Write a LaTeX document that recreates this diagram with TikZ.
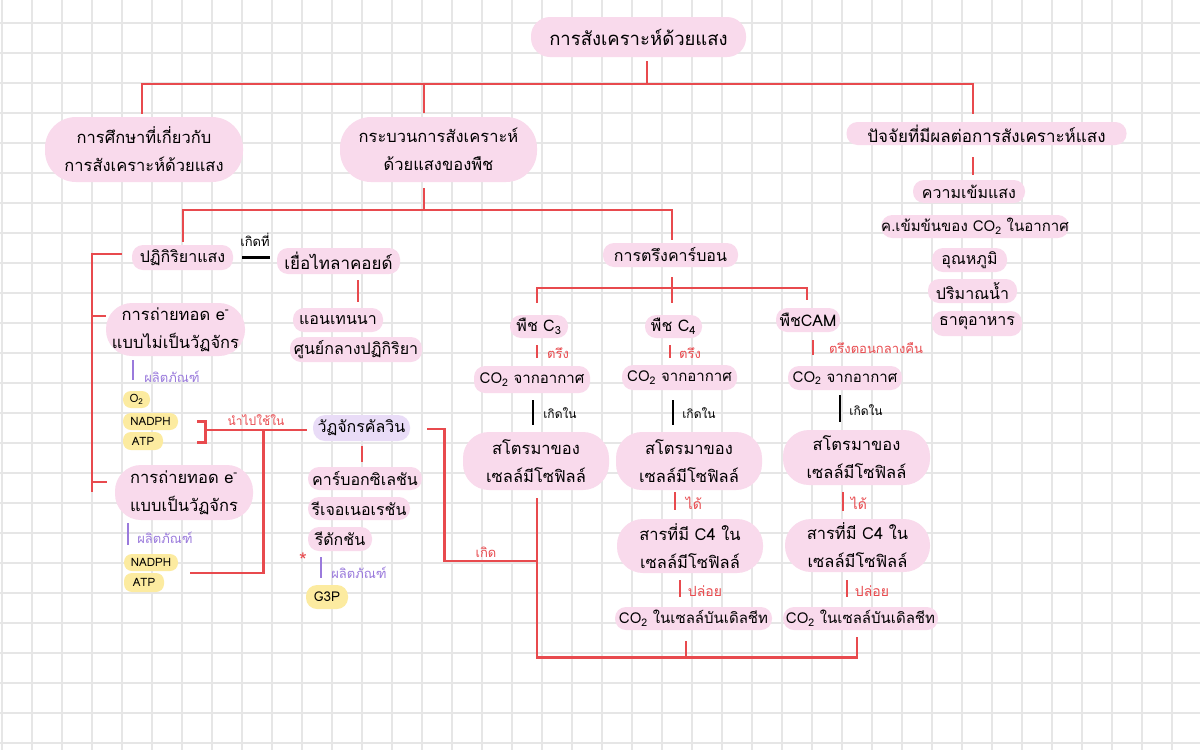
\documentclass[tikz,border=0pt]{standalone}
\usepackage{fontspec}
\setmainfont[Script=Thai]{Loma}
\definecolor{pinkc}{HTML}{F9DAEC}
\definecolor{purf}{HTML}{E9DCF7}
\definecolor{yel}{HTML}{FCEBA0}
\definecolor{redc}{HTML}{E84A4E}
\definecolor{purc}{HTML}{9A7ADC}
\definecolor{gridc}{HTML}{E6E6E6}
\tikzset{
 sz/.style 2 args={minimum width=#1,minimum height=#2},
 pill/.style={fill=pinkc, rounded corners=11pt, inner sep=0pt, font=\fontsize{16}{18}\selectfont},
 bigpill/.style={fill=pinkc, rounded corners=26pt, inner sep=0pt, align=center, font=\fontsize{16.5}{28}\selectfont},
 ypill/.style={fill=yel, rounded corners=8pt, inner sep=0pt, font=\fontsize{11.5}{13}\selectfont},
 ppill/.style={fill=purf, rounded corners=12pt, inner sep=0pt, font=\fontsize{16}{18}\selectfont},
 redl/.style={draw=redc, line width=2.6pt},
 blkl/.style={draw=black, line width=2.6pt},
 purl/.style={draw=purc, line width=2.6pt},
 lab/.style={inner sep=0pt, font=\fontsize{13}{14}\selectfont},
 rlab/.style={lab, text=redc},
 plab/.style={lab, text=purc},
}
\begin{document}
\begin{tikzpicture}[x=1pt,y=-1pt]
\useasboundingbox (0,0) rectangle (1200,750);
\fill[white] (0,0) rectangle (1200,750);
\foreach \i in {0,...,39} {\draw[gridc, line width=1.2pt] (2+30*\i,0) -- (2+30*\i,750);}
\foreach \i in {0,...,24} {\draw[gridc, line width=1.2pt] (0,23+30*\i) -- (1200,23+30*\i);}

% top level
\node[pill, sz={215pt}{40pt}, rounded corners=19pt, font=\fontsize{18.5}{20}\selectfont] (root) at (638.5,37) {การสังเคราะห์ด้วยแสง};
\node[bigpill, sz={198pt}{65pt}, rounded corners=31pt] (study) at (144,149.5) {การศึกษาที่เกี่ยวกับ\\การสังเคราะห์ด้วยแสง};
\node[bigpill, sz={197pt}{65pt}, rounded corners=31pt] (process) at (438.5,149.5) {กระบวนการสังเคราะห์\\ด้วยแสงของพืช};
\node[pill, sz={280pt}{23pt}, font=\fontsize{17}{18}\selectfont] (factors) at (986.5,133.5) {ปัจจัยที่มีผลต่อการสังเคราะห์แสง};
\node[pill, sz={112pt}{23pt}] (f1) at (969,191.5) {ความเข้มแสง};
\node[pill, sz={186pt}{23pt}, font=\fontsize{15}{18}\selectfont] (f2) at (975,226.5) {ค.เข้มข้นของ CO\textsubscript{2} ในอากาศ};
\node[pill, sz={75pt}{24pt}] (f3) at (969.5,260) {อุณหภูมิ};
\node[pill, sz={89pt}{24pt}] (f4) at (972.5,291) {ปริมาณน้ำ};
\node[pill, sz={90pt}{25pt}] (f5) at (977,323.5) {ธาตุอาหาร};

% light reaction
\node[pill, sz={101pt}{25pt}] (light) at (182.5,257.5) {ปฏิกิริยาแสง};
\node[pill, sz={123pt}{26pt}, font=\fontsize{17}{18}\selectfont] (thyl) at (338.5,261) {เยื่อไทลาคอยด์};
\node[pill, sz={90pt}{24pt}] (ant) at (338,320) {แอนเทนนา};
\node[pill, sz={132pt}{25pt}] (rc) at (356,349.5) {ศูนย์กลางปฏิกิริยา};
\node[bigpill, sz={139pt}{53pt}] (noncyc) at (175.5,329.5) {การถ่ายทอด e\textsuperscript{-}\\แบบไม่เป็นวัฏจักร};
\node[ypill, sz={27pt}{17pt}] (o2) at (136.5,399.5) {O\textsubscript{2}};
\node[ypill, sz={55pt}{17pt}] (nadph1) at (150.5,421.5) {NADPH};
\node[ypill, sz={40pt}{18pt}] (atp1) at (143,441) {ATP};
\node[bigpill, sz={138pt}{55pt}] (cyc) at (184,492.5) {การถ่ายทอด e\textsuperscript{-}\\แบบเป็นวัฏจักร};
\node[ypill, sz={54pt}{17pt}] (nadph2) at (151,562.5) {NADPH};
\node[ypill, sz={40pt}{19pt}] (atp2) at (144,582.5) {ATP};

% calvin
\node[ppill, sz={97pt}{26pt}] (calvin) at (361.5,428) {วัฏจักรคัลวิน};
\node[pill, sz={114pt}{23pt}] (carb) at (365,478.5) {คาร์บอกซิเลชัน};
\node[pill, sz={102pt}{23pt}] (regen) at (359,508.5) {รีเจอเนอเรชัน};
\node[pill, sz={64pt}{24pt}] (redu) at (340,539) {รีดักชัน};
\node[ypill, sz={42pt}{24pt}, rounded corners=11pt, font=\fontsize{13.5}{15}\selectfont] (g3p) at (327,597) {G3P};
\node[rlab, font=\fontsize{20}{20}\selectfont] (ast) at (303,560) {*};

% carbon fixation
\node[pill, sz={135pt}{24pt}] (fix) at (670.5,255) {การตรึงคาร์บอน};
\node[pill, sz={58pt}{23pt}] (c3) at (539,326.5) {พืช C\textsubscript{3}};
\node[pill, sz={57pt}{23pt}] (c4) at (673.5,326.5) {พืช C\textsubscript{4}};
\node[pill, sz={64pt}{24pt}] (cam) at (808,320) {พืชCAM};
\node[pill, sz={116pt}{27pt}, font=\fontsize{15}{18}\selectfont] (co2a) at (532,379.5) {CO\textsubscript{2} จากอากาศ};
\node[pill, sz={115pt}{25pt}, font=\fontsize{15}{18}\selectfont] (co2b) at (679.5,377.5) {CO\textsubscript{2} จากอากาศ};
\node[pill, sz={114pt}{24pt}, font=\fontsize{15}{18}\selectfont] (co2c) at (845,378) {CO\textsubscript{2} จากอากาศ};
\node[bigpill, sz={146pt}{58pt}] (str1) at (536,461) {สโตรมาของ\\เซลล์มีโซฟิลล์};
\node[bigpill, sz={146pt}{58pt}] (str2) at (689,461) {สโตรมาของ\\เซลล์มีโซฟิลล์};
\node[bigpill, sz={147pt}{55pt}] (str3) at (856.5,457.5) {สโตรมาของ\\เซลล์มีโซฟิลล์};
\node[bigpill, sz={146pt}{54pt}] (sub1) at (690,546) {สารที่มี C4 ใน\\เซลล์มีโซฟิลล์};
\node[bigpill, sz={145pt}{53pt}] (sub2) at (857.5,545.5) {สารที่มี C4 ใน\\เซลล์มีโซฟิลล์};
\node[pill, sz={157pt}{23pt}, font=\fontsize{15}{18}\selectfont] (bs1) at (693.5,618.5) {CO\textsubscript{2} ในเซลล์บันเดิลชีท};
\node[pill, sz={155pt}{23pt}, font=\fontsize{15}{18}\selectfont] (bs2) at (860.5,618.5) {CO\textsubscript{2} ในเซลล์บันเดิลชีท};

% labels
\node[lab] (l1) at (255,240) {เกิดที่};
\node[plab] (l2) at (172,377) {ผลิตภัณฑ์};
\node[plab] (l3) at (165,538) {ผลิตภัณฑ์};
\node[plab] (l4) at (359,573) {ผลิตภัณฑ์};
\node[rlab, font=\fontsize{12}{13}\selectfont] (l5) at (256,420) {นำไปใช้ใน};
\node[rlab] (l6) at (486,552) {เกิด};
\node[rlab] (l7) at (558,353) {ตรึง};
\node[rlab] (l8) at (690,353) {ตรึง};
\node[rlab] (l9) at (876,348) {ตรึงตอนกลางคืน};
\node[lab, font=\fontsize{12}{13}\selectfont] (l10) at (560,413) {เกิดใน};
\node[lab, font=\fontsize{12}{13}\selectfont] (l11) at (699,413) {เกิดใน};
\node[lab, font=\fontsize{12}{13}\selectfont] (l12) at (866,410) {เกิดใน};
\node[rlab, font=\fontsize{14}{15}\selectfont] (l13) at (694,503) {ได้};
\node[rlab, font=\fontsize{14}{15}\selectfont] (l14) at (859,503) {ได้};
\node[rlab, font=\fontsize{14}{15}\selectfont] (l15) at (705,591) {ปล่อย};
\node[rlab, font=\fontsize{14}{15}\selectfont] (l16) at (872,591) {ปล่อย};

% connectors: top tree
\draw[redl] ([xshift=8.5pt,yshift=-4pt]root.south) -- ++(0,23);
\draw[redl] ([xshift=-2pt,yshift=3pt]study.north) -- ++(0,-30) -| ([xshift=-13.5pt,yshift=8pt]factors.north);
\draw[redl] ([xshift=-14.5pt,yshift=4pt]process.north) -- ++(0,-29);
\draw[redl] ([xshift=-14.5pt,yshift=-6pt]process.south) -- ++(0,22);
\draw[redl] ([xshift=0.5pt,yshift=3pt]light.north) -- ++(0,-32) -| ([xshift=1.5pt,yshift=3pt]fix.north);
\draw[redl] ([xshift=-13.5pt,yshift=-12pt]factors.south) -- ([xshift=4pt,yshift=5pt]f1.north);

% left bracket
\draw[redl] ([xshift=-10pt,yshift=3.5pt]light.west) -- ++(-30,0) -- ++(0,238);
\draw[redl] ([yshift=13.5pt]noncyc.west) -- ++(-14,0);
\draw[redl] ([xshift=-8pt,yshift=10.5pt]cyc.west) -- ++(-15,0);

% light -> thylakoid
\draw[blkl] ([xshift=9pt]light.east) -- ([xshift=-7pt,yshift=3.5pt]thyl.west);
\draw[redl] ([xshift=19.5pt,yshift=-6pt]thyl.south) -- ([xshift=20pt,yshift=6pt]ant.north);

% products
\draw[purl] ([xshift=-42.5pt,yshift=-4pt]noncyc.south) -- ([xshift=-3.5pt,yshift=11pt]o2.north);
\draw[purl] ([xshift=-56pt,yshift=-3pt]cyc.south) -- ([xshift=-23pt,yshift=9pt]nadph2.north);
\draw[purl] ([xshift=-19pt,yshift=-6pt]redu.south) -- ([xshift=-6pt,yshift=7pt]g3p.north);

% NADPH/ATP to calvin
\draw[redl] ([xshift=19pt]nadph1.east) -- ++(8,0) -- ++(0,21) -- ++(-8,0);
\draw[redl] ([xshift=-6pt,yshift=-2pt]calvin.west) -- ++(-102,0);
\draw[redl] ([xshift=12pt,yshift=-10.5pt]nadph2.east) -- ++(73,0) -- ++(0,-143);
\draw[redl] ([xshift=0.5pt,yshift=-5pt]calvin.south) -- ([xshift=-3pt,yshift=5pt]carb.north);

% calvin -> fixation network
\draw[redl] ([xshift=17pt,yshift=-1pt]calvin.east) -- ++(17,0) -- ++(0,132) -- ++(93,0);
\draw[redl] ([xshift=1pt,yshift=-8pt]str1.south) -- ++(0,159) -| ([xshift=-3.5pt,yshift=-7pt]bs2.south);
\draw[redl] ([xshift=-7.5pt,yshift=-11pt]bs1.south) -- ++(0,16);

% carbon fixation tree
\draw[redl] ([xshift=1.5pt,yshift=-10pt]fix.south) -- ++(0,11);
\draw[redl] ([xshift=-2pt,yshift=12pt]c3.north) -- ++(0,-15) -| ([xshift=-1pt,yshift=8pt]cam.north);
\draw[redl] ([xshift=-1.5pt,yshift=12pt]c4.north) -- ++(0,-15);

\draw[redl] ([xshift=-2pt,yshift=-7pt]c3.south) -- ([xshift=5pt,yshift=8pt]co2a.north);
\draw[redl] ([xshift=-3.5pt,yshift=-7pt]c4.south) -- ([xshift=-9.5pt,yshift=7pt]co2b.north);
\draw[redl] ([xshift=5pt,yshift=-8pt]cam.south) -- ([xshift=-32pt,yshift=11pt]co2c.north);

\draw[blkl] ([xshift=1pt,yshift=-7pt]co2a.south) -- ([xshift=-3pt,yshift=7pt]str1.north);
\draw[blkl] ([xshift=-6.5pt,yshift=-10pt]co2b.south) -- ([xshift=-16pt,yshift=7pt]str2.north);
\draw[blkl] ([xshift=-5pt,yshift=-5pt]co2c.south) -- ([xshift=-16.5pt,yshift=8pt]str3.north);

\draw[redl] ([xshift=-14pt,yshift=-2pt]str2.south) -- ([xshift=-15pt,yshift=9pt]sub1.north);
\draw[redl] ([xshift=-10pt,yshift=-7pt]sub1.south) -- ([xshift=-13.5pt,yshift=10pt]bs1.north);
\draw[redl] ([xshift=-13.5pt,yshift=-7pt]str3.south) -- ([xshift=-14.5pt,yshift=8pt]sub2.north);
\draw[redl] ([xshift=-10.5pt,yshift=-8pt]sub2.south) -- ([xshift=-13.5pt,yshift=10pt]bs2.north);
\end{tikzpicture}
\end{document}
